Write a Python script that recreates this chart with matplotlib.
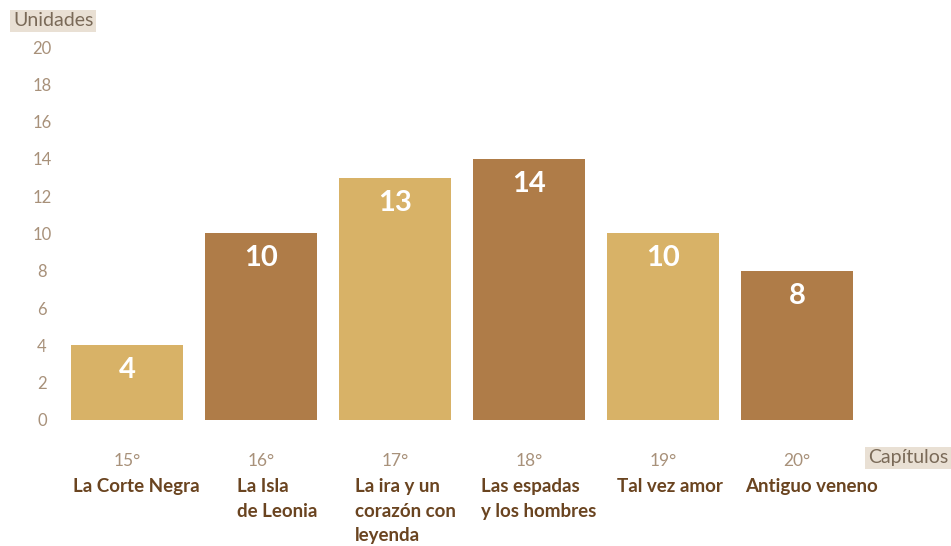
import matplotlib
matplotlib.use("Agg")
import matplotlib.pyplot as plt

chapters = ["15°", "16°", "17°", "18°", "19°", "20°"]
titles = ["La Corte Negra", "La Isla\nde Leonia", "La ira y un\ncorazón con\nleyenda",
          "Las espadas\ny los hombres", "Tal vez amor", "Antiguo veneno"]
values = [4, 10, 13, 14, 10, 8]
yticks = [0, 2, 4, 6, 8, 10, 12, 14, 16, 18, 20]

# layout: horizontal pixel offsets of the book titles relative to bar centres
title_offsets = [-54, -24, -40, -48, -46, -52]

light = "#D8B267"
dark = "#AF7C48"
colors = [light, dark, light, dark, light, dark]
tick_color = "#A8917A"
name_color = "#6A4420"
box_color = "#E9E0D4"

plt.rcParams["font.family"] = ["Lato", "DejaVu Sans"]

fig = plt.figure(figsize=(9.51, 5.46), dpi=100)
W, H = 951, 546
x0, x1 = 33, 891
y0, y1 = 420, 47
ax = fig.add_axes([x0 / W, 1 - y0 / H, (x1 - x0) / W, (y0 - y1) / H])

xs = list(range(len(values)))
ax.bar(xs, values, width=0.84, color=colors)
ax.set_xlim(-0.7, 5.7)
ax.set_ylim(0, 20)

for x, v in zip(xs, values):
    ax.annotate(str(v), (x, v), xytext=(0, -25), textcoords="offset pixels",
                ha="center", va="center", color="white", fontsize=21, fontweight="bold")

for s in ax.spines.values():
    s.set_visible(False)
ax.set_yticks(yticks)
ax.set_yticklabels([str(t) for t in yticks])
ax.tick_params(axis="y", length=0, colors=tick_color, labelsize=12, pad=-6.5)
for lab in ax.get_yticklabels():
    lab.set_ha("center")
ax.set_xticks(xs)
ax.set_xticklabels(chapters)
ax.tick_params(axis="x", length=0, colors=tick_color, labelsize=12.5, pad=24)

for x, t, dx in zip(xs, titles, title_offsets):
    ax.annotate(t, (x, 0), xytext=(dx, -58), textcoords="offset pixels",
                ha="left", va="top", color=name_color, fontsize=13.5, fontweight="bold",
                linespacing=1.55)

fig.text(13 / W, 1 - 21 / H, "Unidades", ha="left", va="center", fontsize=14, color="#7A6A58",
         bbox=dict(boxstyle="square,pad=0.15", fc=box_color, ec="none"))
fig.text(868 / W, 1 - 458 / H, "Capítulos", ha="left", va="center", fontsize=14, color="#7A6A58",
         bbox=dict(boxstyle="square,pad=0.15", fc=box_color, ec="none"))

fig.savefig("out.png", dpi=100)
